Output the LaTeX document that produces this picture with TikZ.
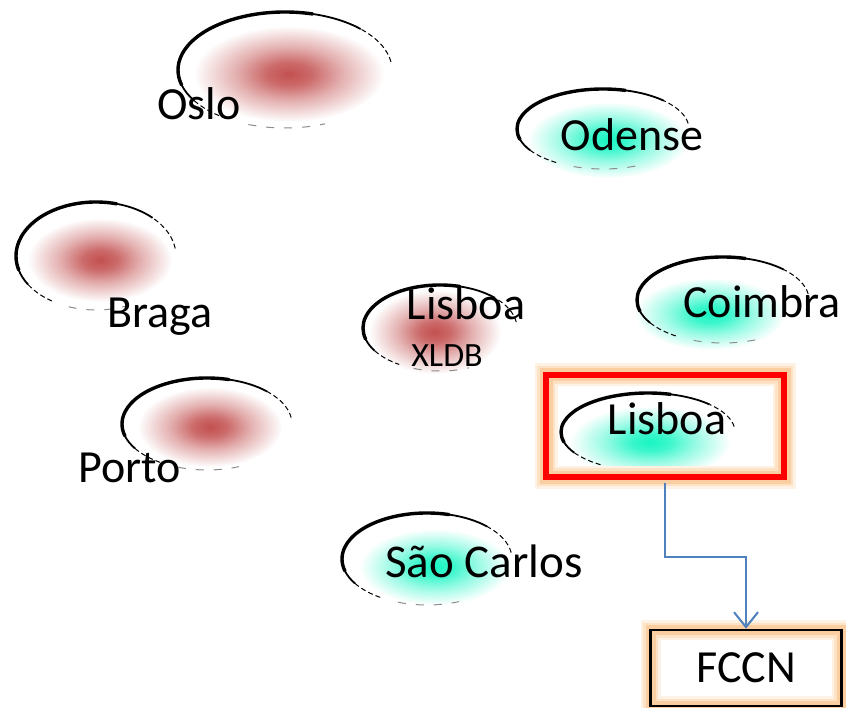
\documentclass[tikz,border=0pt]{standalone}
\usepackage{fontspec}
\setmainfont{Carlito}
\usetikzlibrary{fadings,arrows.meta}
\pgfdeclareradialshading{blobsh}{\pgfpoint{0bp}{0bp}}{color(0bp)=(pgftransparent!0); color(6bp)=(pgftransparent!15); color(14bp)=(pgftransparent!55); color(25bp)=(pgftransparent!100); color(50bp)=(pgftransparent!100)}
\pgfdeclarefading{blobfade}{\pgfuseshading{blobsh}}
\definecolor{blobred}{RGB}{195,80,80}
\definecolor{blobcyan}{RGB}{25,245,195}
\definecolor{arrowblue}{RGB}{79,129,189}
\definecolor{glowA}{RGB}{254,242,228}
\definecolor{glowB}{RGB}{253,226,198}
\definecolor{glowC}{RGB}{251,206,162}
\definecolor{boxred}{RGB}{255,0,0}
\tikzset{
  city/.style={anchor=base, inner sep=0pt, font=\fontsize{46}{50}\selectfont},
  citysmall/.style={anchor=base, inner sep=0pt, font=\fontsize{34}{38}\selectfont},
  ringthick/.style={line width=3.4pt, black, line cap=round},
  ringmid/.style={line width=1.8pt, black},
  ringthin/.style={line width=1pt, black, dash pattern=on 5pt off 3pt},
  ringfaint/.style={line width=1pt, black!45, dash pattern=on 8pt off 10pt},
  redbox/.style={draw=boxred, line width=6pt, inner sep=0pt, minimum width=238pt, minimum height=102pt,
    preaction={draw=glowA, line width=23pt}, preaction={draw=glowB, line width=18pt},
    preaction={draw=glowC, line width=13pt}},
  fccnbox/.style={draw=black, line width=2.5pt, inner sep=0pt, minimum width=191pt, minimum height=76pt,
    font=\fontsize{46}{50}\selectfont,
    preaction={draw=glowA, line width=20pt}, preaction={draw=glowB, line width=15pt},
    preaction={draw=glowC, line width=10pt}},
  link/.style={draw=arrowblue, line width=2pt, -{Straight Barb[length=15pt,width=24pt]}},
}
\newcommand\cityring[3]{%
  \draw[ringthick] (#1) ++(75:#2 and #3) arc[start angle=75,end angle=195,x radius=#2,y radius=#3];
  \draw[ringmid] (#1) ++(45:#2 and #3) arc[start angle=45,end angle=75,x radius=#2,y radius=#3];
  \draw[ringmid] (#1) ++(195:#2 and #3) arc[start angle=195,end angle=212,x radius=#2,y radius=#3];
  \draw[ringthin] (#1) ++(8:#2 and #3) arc[start angle=8,end angle=45,x radius=#2,y radius=#3];
  \draw[ringthin] (#1) ++(212:#2 and #3) arc[start angle=212,end angle=238,x radius=#2,y radius=#3];
  \draw[ringfaint] (#1) ++(250:#2 and #3) arc[start angle=250,end angle=292,x radius=#2,y radius=#3];
}
\newcommand\cityblob[4]{%
  \fill[#1, path fading=blobfade] (#2) ellipse[x radius=#3, y radius=#4];
}
\begin{document}
\begin{tikzpicture}[x=1pt,y=1pt]
\useasboundingbox (0,0) rectangle (846,-708);
% ellipse centres
\coordinate (osloC) at (285,-70);
\coordinate (odenseC) at (603,-129);
\coordinate (bragaC) at (96,-256);
\coordinate (xldbC) at (440,-328);
\coordinate (coimbraC) at (723,-300);
\coordinate (portoC) at (207,-424);
\coordinate (saoC) at (427,-559);
\coordinate (lisC) at (648,-432);
% blob centres
\coordinate (osloB) at (289,-74);
\coordinate (odenseB) at (608,-140);
\coordinate (bragaB) at (100,-260);
\coordinate (xldbB) at (435,-332);
\coordinate (coimbraB) at (710,-314);
\coordinate (portoB) at (210,-427);
\coordinate (saoB) at (435,-567);
\coordinate (lisB) at (650,-442);
% blobs
\cityblob{blobred}{osloB}{95}{48}
\cityblob{blobcyan}{odenseB}{80}{38}
\cityblob{blobred}{bragaB}{72}{42}
\cityblob{blobred}{xldbB}{66}{42}
\cityblob{blobcyan}{coimbraB}{75}{36}
\cityblob{blobred}{portoB}{72}{40}
\cityblob{blobcyan}{saoB}{75}{38}
\cityblob{blobcyan}{lisB}{80}{36}
% rings
\cityring{osloC}{107}{58}
\cityring{odenseC}{86}{40}
\cityring{bragaC}{80}{54}
\cityring{xldbC}{77}{43}
\cityring{coimbraC}{86}{43}
\cityring{portoC}{85}{46}
\cityring{saoC}{85}{46}
\cityring{lisC}{87}{39}
% labels
\node[city] (oslo) at (199,-120) {Oslo};
\node[city] (odense) at (632,-151) {Odense};
\node[city] (braga) at (160,-328) {Braga};
\node[city] (lisboa1) at (466,-320) {Lisboa};
\node[citysmall] (xldb) at (447,-367) {XLDB};
\node[city] (coimbra) at (762,-318) {Coimbra};
\node[city] (porto) at (130,-482) {Porto};
\node[city, font=\fontsize{47}{50}\selectfont] (saocarlos) at (484,-577) {São Carlos};
\node[city] (lisboa2) at (667,-435) {Lisboa};
% boxes
\node[redbox] (lbox) at (665,-426) {};
\node[fccnbox] (fccn) at (746,-668) {FCCN};
% connector
\draw[link] ([yshift=-3pt]lbox.south) -- ++(0,-74) -| (fccn.north);
\end{tikzpicture}
\end{document}
